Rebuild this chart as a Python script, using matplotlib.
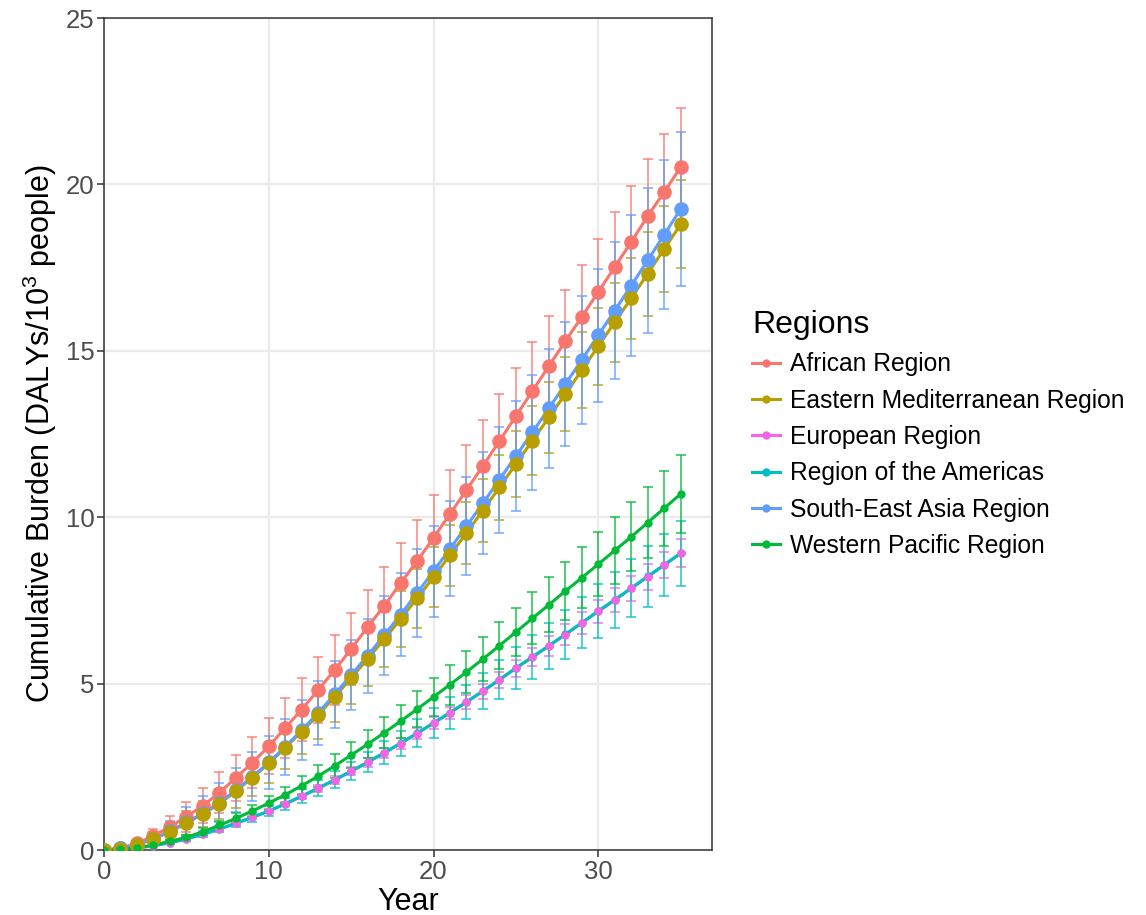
import matplotlib
matplotlib.use("Agg")
import matplotlib.pyplot as plt
from matplotlib.lines import Line2D

plt.rcParams['font.family'] = ['Liberation Sans', 'DejaVu Sans']
plt.rcParams['mathtext.default'] = 'regular'

years = list(range(36))

regions = ["African Region", "Eastern Mediterranean Region", "European Region",
           "Region of the Americas", "South-East Asia Region", "Western Pacific Region"]
colors = ["#F8766D", "#B79F00", "#F564E3", "#00BFC4", "#619CFF", "#00BA38"]

african = [0, 0.06, 0.2, 0.42, 0.7, 1.0, 1.33, 1.72, 2.17, 2.62, 3.12, 3.67, 4.22, 4.81,
           5.41, 6.04, 6.7, 7.33, 8.02, 8.68, 9.38, 10.1, 10.82, 11.54, 12.29, 13.04, 13.79,
           14.54, 15.29, 16.02, 16.77, 17.52, 18.27, 19.05, 19.77, 20.52]
east_med = [0, 0.04, 0.15, 0.33, 0.55, 0.81, 1.08, 1.39, 1.77, 2.17, 2.6, 3.07, 3.56, 4.06,
            4.6, 5.17, 5.74, 6.33, 6.94, 7.56, 8.2, 8.86, 9.53, 10.2, 10.9, 11.6, 12.3, 13.0,
            13.7, 14.42, 15.14, 15.86, 16.58, 17.32, 18.06, 18.8]
europe = [0, 0.02, 0.06, 0.13, 0.22, 0.33, 0.47, 0.63, 0.8, 0.98, 1.17, 1.38, 1.61, 1.85,
          2.1, 2.36, 2.63, 2.91, 3.2, 3.5, 3.81, 4.12, 4.44, 4.77, 5.11, 5.46, 5.79, 6.13,
          6.47, 6.82, 7.17, 7.51, 7.86, 8.21, 8.56, 8.91]
americas = [0, 0.02, 0.06, 0.13, 0.22, 0.33, 0.47, 0.63, 0.8, 0.98, 1.17, 1.39, 1.62, 1.86,
            2.11, 2.37, 2.64, 2.92, 3.21, 3.51, 3.82, 4.13, 4.45, 4.78, 5.12, 5.47, 5.8, 6.14,
            6.48, 6.83, 7.18, 7.52, 7.87, 8.22, 8.57, 8.92]
se_asia = [0, 0.05, 0.16, 0.34, 0.56, 0.83, 1.1, 1.42, 1.8, 2.2, 2.63, 3.1, 3.6, 4.12, 4.68,
           5.26, 5.84, 6.45, 7.07, 7.72, 8.38, 9.05, 9.73, 10.42, 11.13, 11.84, 12.55, 13.27,
           14.0, 14.73, 15.47, 16.21, 16.96, 17.72, 18.49, 19.26]
w_pacific = [0, 0.02, 0.07, 0.15, 0.26, 0.38, 0.55, 0.74, 0.95, 1.17, 1.41, 1.66, 1.93, 2.22,
             2.53, 2.85, 3.18, 3.52, 3.87, 4.23, 4.6, 4.97, 5.35, 5.74, 6.14, 6.55, 6.96, 7.37,
             7.78, 8.18, 8.59, 9.0, 9.41, 9.84, 10.27, 10.7]

err_african = [0, 0.05, 0.13, 0.22, 0.33, 0.45, 0.53, 0.61, 0.69, 0.77, 0.85, 0.9, 0.95, 0.99,
               1.04, 1.08, 1.12, 1.17, 1.21, 1.25, 1.29, 1.32, 1.35, 1.38, 1.41, 1.44, 1.47,
               1.5, 1.54, 1.57, 1.6, 1.64, 1.67, 1.71, 1.74, 1.78]
err_east_med = [0, 0.03, 0.08, 0.16, 0.25, 0.35, 0.4, 0.45, 0.5, 0.55, 0.6, 0.64, 0.67, 0.71,
                0.74, 0.78, 0.8, 0.83, 0.85, 0.88, 0.9, 0.92, 0.94, 0.96, 0.98, 1.0, 1.03,
                1.06, 1.1, 1.13, 1.16, 1.19, 1.22, 1.26, 1.29, 1.32]
err_europe = [0, 0, 0, 0.01, 0.01, 0.02, 0.03, 0.03, 0.04, 0.05, 0.06, 0.07, 0.08, 0.1, 0.11,
              0.12, 0.13, 0.14, 0.16, 0.17, 0.18, 0.19, 0.21, 0.22, 0.24, 0.25, 0.27, 0.29,
              0.31, 0.32, 0.34, 0.36, 0.37, 0.39, 0.4, 0.42]
err_americas = [0, 0, 0.01, 0.02, 0.03, 0.05, 0.07, 0.09, 0.11, 0.13, 0.15, 0.18, 0.2, 0.23,
                0.25, 0.28, 0.31, 0.35, 0.38, 0.42, 0.45, 0.48, 0.52, 0.55, 0.59, 0.62, 0.66,
                0.69, 0.73, 0.76, 0.8, 0.84, 0.87, 0.91, 0.94, 0.98]
err_se_asia = [0, 0.04, 0.11, 0.2, 0.32, 0.45, 0.52, 0.59, 0.66, 0.73, 0.8, 0.85, 0.9, 0.95,
               1.0, 1.05, 1.11, 1.18, 1.24, 1.31, 1.37, 1.43, 1.48, 1.54, 1.59, 1.65, 1.72,
               1.79, 1.86, 1.93, 2.0, 2.06, 2.12, 2.18, 2.24, 2.3]
err_w_pacific = [0, 0.01, 0.02, 0.04, 0.05, 0.07, 0.1, 0.12, 0.15, 0.17, 0.2, 0.24, 0.28, 0.32,
                 0.36, 0.4, 0.43, 0.47, 0.5, 0.54, 0.57, 0.6, 0.64, 0.67, 0.7, 0.73, 0.78,
                 0.82, 0.87, 0.91, 0.96, 1.0, 1.04, 1.08, 1.13, 1.17]

series = [african, east_med, europe, americas, se_asia, w_pacific]
errors = [err_african, err_east_med, err_europe, err_americas, err_se_asia, err_w_pacific]
big_marker = [True, True, False, False, True, False]
point_order = [0, 3, 2, 4, 1, 5]

fig = plt.figure(figsize=(11.46, 9.15), dpi=100)
ax = fig.add_axes([104 / 1146, 1 - 850 / 915, (712 - 104) / 1146, (850 - 18) / 915])

for vals, err, col in zip(series, errors, colors):
    ax.errorbar(years, vals, yerr=err, fmt='none', ecolor=col, elinewidth=1.3,
                capsize=3.5, capthick=1.3, alpha=0.75, zorder=2)
for vals, col in zip(series, colors):
    ax.plot(years, vals, color=col, lw=2.2, zorder=3, solid_capstyle='round')
for i in point_order:
    ax.plot(years, series[i], linestyle='none', marker='o', color=colors[i],
            markersize=10.5 if big_marker[i] else 6, markeredgewidth=0, zorder=4)

ax.set_xlim(0, 36.9)
ax.set_ylim(0, 25)
ax.set_xticks([0, 10, 20, 30])
ax.set_yticks([0, 5, 10, 15, 20, 25])
ax.grid(True, color='#EBEBEB', lw=1.6, zorder=0)
ax.set_axisbelow(True)
for s in ax.spines.values():
    s.set_color('#333333')
    s.set_linewidth(1.1)
ax.tick_params(axis='both', direction='out', length=5, width=1.1, color='#333333',
               labelsize=18.5, labelcolor='#4D4D4D', pad=2)
ax.set_xlabel('Year', fontsize=22, labelpad=2)
ax.set_ylabel('Cumulative Burden (DALYs/10$^3$ people)', fontsize=22, labelpad=5)

handles = [Line2D([0], [0], color=c, lw=2.2, marker='o', markersize=6, markeredgewidth=0)
           for c in colors]
leg = ax.legend(handles, regions, title='Regions', loc='center left',
                bbox_to_anchor=(1.05, 0.5), frameon=False, fontsize=17.7,
                title_fontsize=23, handlelength=1.14, handletextpad=0.4,
                labelspacing=0.5, borderaxespad=0)
leg._legend_box.align = 'left'

fig.savefig('out.png', dpi=100)
